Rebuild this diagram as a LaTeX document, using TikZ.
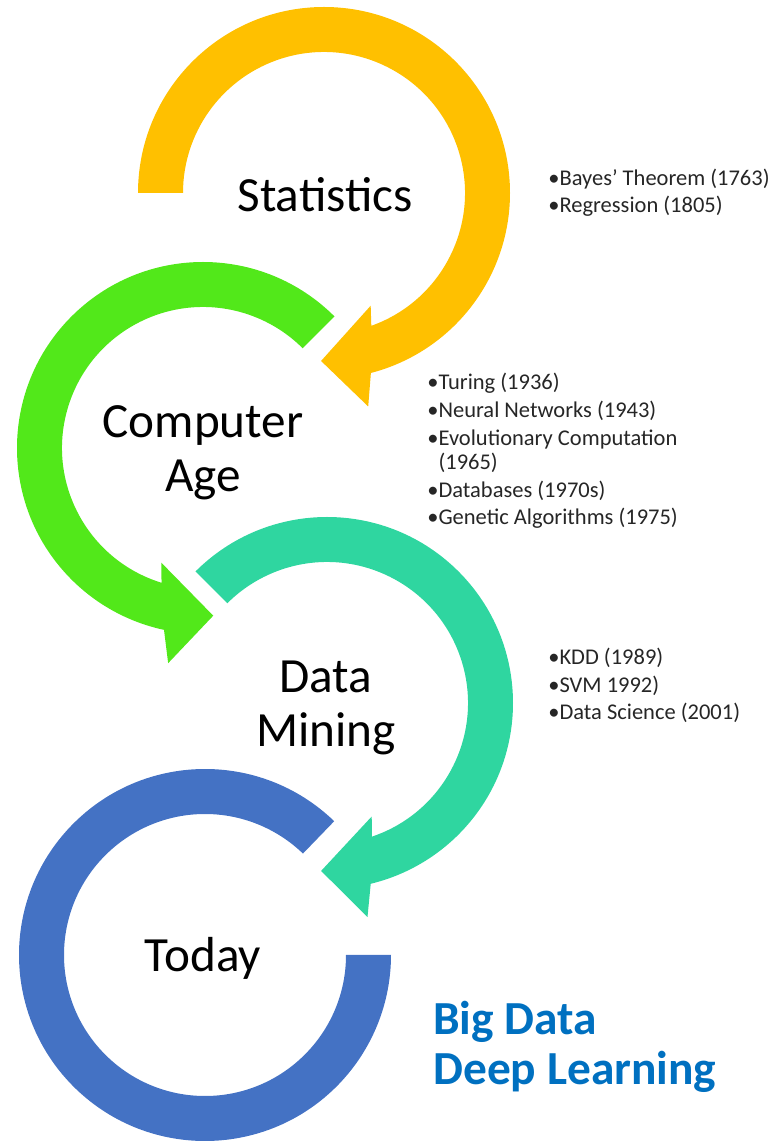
\documentclass[tikz,border=0pt]{standalone}
\usepackage{fontspec}
\setmainfont{Carlito}
\usetikzlibrary{positioning}
\definecolor{goldring}{HTML}{FFC000}
\definecolor{limering}{HTML}{52E81A}
\definecolor{tealring}{HTML}{2FD6A0}
\definecolor{bluering}{HTML}{4472C4}
\definecolor{bigblue}{HTML}{0070C0}

\begin{document}
\begin{tikzpicture}[x=0.02cm, y=0.02cm,
    era/.style={inner sep=0pt, font=\fontsize{28}{31}\selectfont, align=center},
    facts/.style={inner sep=0pt, anchor=base west, align=left, text=black!85,
      font=\fontsize{12.8}{13.6}\selectfont}]
  \useasboundingbox (0,0) rectangle (773,1144);

  \coordinate (S) at (324, 951);
  \coordinate (C) at (203, 696);
  \coordinate (D) at (327, 441);
  \coordinate (T) at (205, 189);

  % statistics
  \fill[goldring, shift={(S)}] (180:186) arc[start angle=180, end angle=-75.4, radius=186]
    -- (-78.3:218) -- (-91:168) -- (-67.5:122) -- (-70.4:141)
    arc[start angle=-70.4, end angle=180, radius=141] -- cycle;
  % computer age
  \fill[limering, shift={(C)}] (45:186) arc[start angle=45, end angle=257.9, radius=186]
    -- (260.8:218) -- (273.5:168) -- (250:122) -- (252.9:141)
    arc[start angle=252.9, end angle=45, radius=141] -- cycle;
  % data mining
  \fill[tealring, shift={(D)}] (135:186) arc[start angle=135, end angle=-76.4, radius=186]
    -- (-79.3:218) -- (-92:168) -- (-68.5:122) -- (-71.4:141)
    arc[start angle=-71.4, end angle=135, radius=141] -- cycle;
  % today
  \fill[bluering, shift={(T)}] (46:186) arc[start angle=46, end angle=360, radius=186]
    -- (0:141) arc[start angle=360, end angle=46, radius=141] -- cycle;

  % base anchor sits on the last line
  \node[era, anchor=base] (stat) at (325, 932) {Statistics};
  \node[era, anchor=base] (comp) at (203, 652) {Computer\\Age};
  \node[era, anchor=base] (mine) at (326, 397) {Data\\Mining};
  \node[era, anchor=base] (today) at (203, 172) {Today};

  \node[facts] (statlist) at (548, 931) {•Bayes’ Theorem (1763)\\[2.3pt]•Regression (1805)};
  \node[facts] (complist) at (427, 619) {•Turing (1936)\\[2.3pt]•Neural Networks (1943)\\[2.3pt]%
    •Evolutionary Computation\\\phantom{•}(1965)\\[2.3pt]•Databases (1970s)\\[2.3pt]%
    •Genetic Algorithms (1975)};
  \node[facts] (minelist) at (548, 424) {•KDD (1989)\\[2.3pt]•SVM 1992)\\[2.3pt]•Data Science (2001)};

  \node[inner sep=0pt, anchor=base west, align=left, text=bigblue,
    font=\bfseries\fontsize{27}{29}\selectfont] (bigdata) at (433, 59) {Big Data\\Deep Learning};
\end{tikzpicture}
\end{document}
